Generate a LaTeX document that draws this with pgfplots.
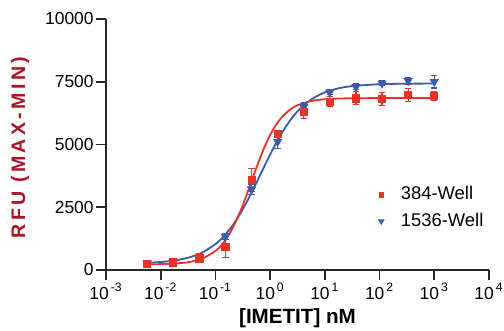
\documentclass[border=0pt]{standalone}
\usepackage{pgfplots}
\pgfplotsset{compat=1.18}
\usepackage{fontspec}
\setmainfont{Liberation Sans}
\definecolor{rd}{RGB}{236,50,40}
\definecolor{bl}{RGB}{60,90,170}
\definecolor{lab}{RGB}{168,22,36}
\begin{document}
\begin{tikzpicture}
\begin{axis}[
  at={(0,0)}, anchor=south west,
  scale only axis, width=191.5bp, height=125.5bp,
  xmode=log, xmin=1e-3, xmax=1e4, ymin=0, ymax=10000,
  scaled y ticks=false, scaled x ticks=false,
  axis lines=left, axis line style={-, line width=0.8bp, black!85},
  tick style={line width=0.8bp, black!85}, tick align=outside,
  major tick length=5bp,
  xminorticks=false, yminorticks=false,
  xtick={1e-3,1e-2,1e-1,1,10,100,1000,1e4},
  xticklabels={10\kern1bp\textsuperscript{-3},10\kern1bp\textsuperscript{-2},10\kern1bp\textsuperscript{-1},10\kern1bp\textsuperscript{0},10\kern1bp\textsuperscript{1},10\kern1bp\textsuperscript{2},10\kern1bp\textsuperscript{3},10\kern1bp\textsuperscript{4}},
  ytick={0,2500,5000,7500,10000},
  yticklabels={0,2500,5000,7500,10000},
  ticklabel style={font=\fontsize{8.7bp}{10bp}\selectfont},
  yticklabel style={inner sep=1bp},
  xticklabel style={inner sep=1.5bp},
  xlabel={[IMETIT] nM},
  xlabel style={at={(axis description cs:0.5,-0.213)}, anchor=base, font=\fontsize{10.3bp}{12bp}\selectfont\bfseries},
  ylabel={\addfontfeatures{LetterSpace=17}RFU (MAX-MIN)},
  ylabel style={at={(axis description cs:-0.2245,0.488)}, anchor=center, text=lab, font=\fontsize{9.8bp}{12bp}\selectfont\bfseries},
  legend style={draw=none, fill=none, at={(axis description cs:0.711,0.35)}, anchor=north west,
    font=\fontsize{9.2bp}{11bp}\selectfont, row sep=1.2bp, column sep=6.5bp, inner sep=0pt},
  legend cell align=left,
  legend image post style={scale=0.65},
  reverse legend,
  clip=false,
]
% fitted curves
\addplot[bl, line width=0.9bp, smooth, forget plot] coordinates {
 (0.005623,287) (0.01,319) (0.01778,379) (0.03162,489) (0.05623,687) (0.1,1032)
 (0.1413,1338) (0.1995,1736) (0.2818,2235) (0.3981,2823) (0.5623,3477) (0.7943,4157)
 (1.122,4814) (1.585,5409) (2.239,5912) (3.162,6319) (5.623,6793) (10,7077)
 (17.78,7238) (31.62,7327) (100,7401) (316.2,7422) (1000,7428)};
\addplot[rd, line width=0.9bp, smooth, forget plot] coordinates {
 (0.005623,226) (0.01,235) (0.01778,257) (0.03162,311) (0.05623,444) (0.1,756)
 (0.1413,1098) (0.1995,1610) (0.2818,2313) (0.3981,3170) (0.5623,4079) (0.7943,4912)
 (1.122,5577) (1.585,6052) (2.239,6366) (3.162,6563) (5.623,6733) (10,6803)
 (17.78,6831) (31.62,6842) (100,6849) (316.2,6850) (1000,6850)};
% data, 1536-Well
\addplot[bl, only marks, mark=triangle*, mark size=2.3bp, mark options={rotate=180, bl},
  error bars/.cd, y dir=both, y explicit,
  error bar style={bl, line width=0.6bp}, error mark options={rotate=90, mark size=1.6bp, bl, line width=0.6bp}]
 coordinates {
 (0.00565,290) +- (0,40) (0.0169,330) +- (0,40) (0.0508,530) +- (0,60)
 (0.152,1330) +- (0,130) (0.457,3220) +- (0,200) (1.37,5110) +- (0,265)
 (4.12,6500) +- (0,150) (12.3,7080) +- (0,100) (37.0,7300) +- (0,120)
 (111,7440) +- (0,100) (333,7540) +- (0,140) (1000,7500) +- (0,250)};
\addlegendentry{1536-Well}
% data, 384-Well
\addplot[rd, only marks, mark=square*, mark size=1.8bp, mark options={rd},
  error bars/.cd, y dir=both, y explicit,
  error bar style={rd, line width=0.6bp}, error mark options={rotate=90, mark size=1.6bp, rd, line width=0.6bp}]
 coordinates {
 (0.00565,240) +- (0,40) (0.0169,305) +- (0,40) (0.0508,465) +- (0,180)
 (0.152,930) +- (0,430) (0.457,3590) +- (0,465) (1.37,5420) +- (0,100)
 (4.12,6310) +- (0,280) (12.3,6710) +- (0,200) (37.0,6840) +- (0,260)
 (111,6810) +- (0,260) (333,6970) +- (0,265) (1000,6930) +- (0,175)};
\addlegendentry{384-Well}
\end{axis}
\pgfresetboundingbox
\path (-53bp,-30.5bp) rectangle (199bp,135bp);
\end{tikzpicture}
\end{document}
